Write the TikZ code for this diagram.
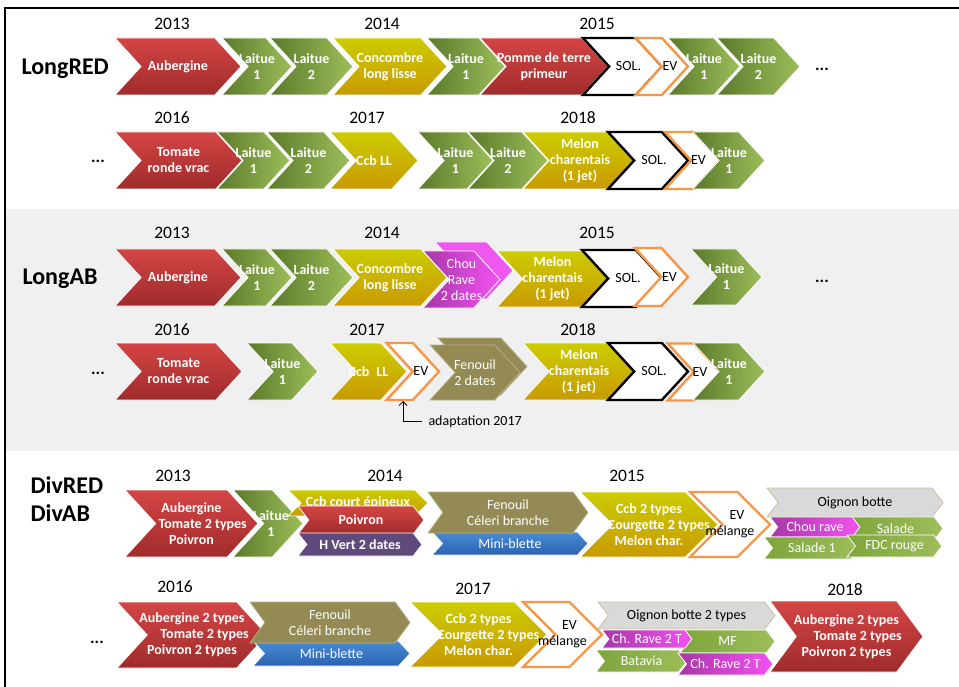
\documentclass[tikz,border=0pt]{standalone}
\usepackage{fontspec}
\setmainfont{Carlito}
\usetikzlibrary{shapes.symbols,arrows.meta}
\definecolor{redT}{HTML}{D44545}
\definecolor{redB}{HTML}{A02B2B}
\definecolor{grnL}{HTML}{5B7A2B}
\definecolor{grnR}{HTML}{9DBE5A}
\definecolor{lgrL}{HTML}{7FA53C}
\definecolor{lgrR}{HTML}{9DBE5A}
\definecolor{yelT}{HTML}{CCCC00}
\definecolor{yelB}{HTML}{C99A00}
\definecolor{khaki}{HTML}{948A54}
\definecolor{khakiEdge}{HTML}{B8B088}
\definecolor{bluT}{HTML}{4A8CD6}
\definecolor{bluB}{HTML}{2A62AE}
\definecolor{purp}{HTML}{604A7B}
\definecolor{magL}{HTML}{A837A8}
\definecolor{magR}{HTML}{F252F2}
\definecolor{magBack}{HTML}{EE58EE}
\definecolor{oig}{HTML}{D9D9D9}
\definecolor{oigEdge}{HTML}{C9C0A0}
\definecolor{evOr}{HTML}{F79646}
\definecolor{band}{HTML}{F0F0F0}

\begin{document}
\begin{tikzpicture}[x=1pt, y=-1pt,
  chev/.style={signal, signal from=west, signal to=east, signal pointer angle=95,
    inner sep=0pt, outer sep=0pt, draw=white, line width=0.8pt, anchor=east},
  slim/.style={signal pointer angle=105},
  redc/.style={chev, top color=redT, bottom color=redB},
  grnc/.style={chev, left color=grnL, right color=grnR},
  lgrc/.style={chev, slim, left color=lgrL, right color=lgrR},
  yelc/.style={chev, top color=yelT, bottom color=yelB},
  khkc/.style={chev, fill=khaki, draw=khakiEdge},
  bluc/.style={chev, slim, top color=bluT, bottom color=bluB},
  purc/.style={chev, slim, fill=purp},
  magc/.style={chev, left color=magL, right color=magR},
  grayc/.style={chev, slim, fill=oig, draw=oigEdge},
  solc/.style={chev, fill=white, draw=black, line width=2.4pt},
  evc/.style={chev, fill=white, draw=evOr, line width=2.4pt},
  lbl/.style={text=white, align=center, font=\bfseries\fontsize{14}{16}\selectfont},
  lbln/.style={text=white, align=center, font=\fontsize{14}{16}\selectfont},
  lblk/.style={text=black, align=center, font=\fontsize{14}{16}\selectfont},
  year/.style={font=\fontsize{17.5}{20}\selectfont, anchor=base},
  rotname/.style={font=\bfseries\fontsize{24}{26}\selectfont, anchor=base west},
  dots/.style={font=\bfseries\fontsize{17}{20}\selectfont, anchor=base}]
  \useasboundingbox (0,0) rectangle (959,687);
  % background band and frame
  \fill[band] (5,209) rectangle (959,451);
  \draw[black, line width=2pt] (4.5,687) -- (4.5,8) -- (959,8);

  % LongRED
  \node[rotname] (longred) at (18,75) {LongRED};
  \node[year] (yA1) at (172,30) {2013};
  \node[year] (yA2) at (382,30) {2014};
  \node[year] (yA3) at (597,30) {2015};
  \node[redc, minimum width=126, minimum height=57, label={[lbl]center:Aubergine}] (aubA) at (241,66.5) {};
  \node[grnc, minimum width=70, minimum height=57, label={[lbl]center:{Laitue\\1}}] (laitA1) at (292,66.5) {};
  \node[grnc, minimum width=83, minimum height=57, label={[lbl]center:{Laitue\\2}}] (laitA2) at (353,66.5) {};
  \node[yelc, minimum width=114, minimum height=57, label={[lbl]center:{Concombre\\long lisse}}] (ccbA) at (447,66.5) {};
  \node[grnc, minimum width=78, minimum height=57, label={[lbl]center:{Laitue\\1}}] (laitA3) at (505,66.5) {};
  \node[redc, minimum width=128, minimum height=57, label={[lbl]center:{Pomme de terre\\primeur}}] (pdtA) at (608,66.5) {};
  \node[solc, minimum width=79, minimum height=57, label={[lblk, xshift=6]center:SOL.}] (solA) at (662,66.5) {};
  \node[evc, minimum width=49, minimum height=57, label={[lblk, xshift=8]center:EV}] (evA) at (688,66.5) {};
  \node[grnc, minimum width=72, minimum height=57, label={[lbl]center:{Laitue\\1}}] (laitA4) at (740,66.5) {};
  \node[grnc, minimum width=83, minimum height=57, label={[lbl]center:{Laitue\\2}}] (laitA5) at (800,66.5) {};
  \node[dots] (dotsA) at (822,71) {...};

  \node[dots] (dotsB) at (98,163) {...};
  \node[year] (yB1) at (172,124) {2016};
  \node[year] (yB2) at (367,124) {2017};
  \node[year] (yB3) at (578,124) {2018};
  \node[redc, minimum width=127, minimum height=57, label={[lbl]center:{Tomate\\ronde vrac}}] (tomB) at (242,160.5) {};
  \node[grnc, minimum width=73, minimum height=57, label={[lbl]center:{Laitue\\1}}] (laitB1) at (290,160.5) {};
  \node[grnc, minimum width=83, minimum height=57, label={[lbl]center:{Laitue\\2}}] (laitB2) at (350,160.5) {};
  \node[yelc, minimum width=88, minimum height=57, label={[lbl]center:Ccb LL}] (ccbB) at (418,160.5) {};
  \node[grnc, minimum width=75, minimum height=57, label={[lbl]center:{Laitue\\1}}] (laitB3) at (493,160.5) {};
  \node[grnc, minimum width=80, minimum height=57, label={[lbl]center:{Laitue\\2}}] (laitB4) at (548,160.5) {};
  \node[yelc, minimum width=114, minimum height=57, label={[lbl]center:{Melon\\charentais\\(1 jet)}}] (melB) at (637,160.5) {};
  \node[solc, minimum width=80, minimum height=57, label={[lblk, xshift=6]center:SOL.}] (solB) at (688,160.5) {};
  \node[evc, minimum width=55, minimum height=57, label={[lblk, xshift=6]center:EV}] (evB) at (720,160.5) {};
  \node[grnc, minimum width=72, minimum height=57, label={[lbl]center:{Laitue\\1}}] (laitB5) at (765,160.5) {};

  % LongAB
  \node[rotname] (longab) at (19,285) {LongAB};
  \node[year] (yC1) at (172,239) {2013};
  \node[year] (yC2) at (382,239) {2014};
  \node[year] (yC3) at (597,239) {2015};
  \node[redc, minimum width=126, minimum height=57, label={[lbl]center:Aubergine}] (aubC) at (241,277.5) {};
  \node[grnc, minimum width=70, minimum height=57, label={[lbl]center:{Laitue\\1}}] (laitC1) at (292,277.5) {};
  \node[grnc, minimum width=83, minimum height=57, label={[lbl]center:{Laitue\\2}}] (laitC2) at (353,277.5) {};
  \node[yelc, minimum width=114, minimum height=57, label={[lbl]center:{Concombre\\long lisse}}] (ccbC) at (447,277.5) {};
  \node[chev, fill=magBack, minimum width=78, minimum height=57] (chouCb) at (513,270.5) {};
  \node[magc, minimum width=77, minimum height=57, label={[lbln]center:{Chou\\Rave\\2 dates}}] (chouC) at (500,279.5) {};
  \node[yelc, minimum width=111, minimum height=56, label={[lbl]center:{Melon\\charentais\\(1 jet)}}] (melC) at (608,279) {};
  \node[solc, minimum width=80, minimum height=57, label={[lblk, xshift=6]center:SOL.}] (solC) at (662,278.5) {};
  \node[evc, minimum width=49, minimum height=58, label={[lblk, xshift=8]center:EV}] (evC) at (688,277) {};
  \node[grnc, minimum width=71, minimum height=56, label={[lbl]center:{Laitue\\1}}] (laitC3) at (762,277) {};
  \node[dots] (dotsC) at (822,283) {...};

  \node[dots] (dotsD) at (98,374) {...};
  \node[year] (yD1) at (172,335) {2016};
  \node[year] (yD2) at (367,335) {2017};
  \node[year] (yD3) at (578,335) {2018};
  \node[redc, minimum width=127, minimum height=57, label={[lbl]center:{Tomate\\ronde vrac}}] (tomD) at (242,371.5) {};
  \node[grnc, minimum width=71, minimum height=57, label={[lbl]center:{Laitue\\1}}] (laitD1) at (318,371.5) {};
  \node[yelc, minimum width=77, minimum height=57, label={[lbl]center:{Ccb\hspace{0.5em}LL}}] (ccbD) at (407,371.5) {};
  \node[evc, minimum width=47, minimum height=57, label={[lblk, xshift=8]center:EV}] (evD1) at (439,371.5) {};
  \node[khkc, minimum width=89, minimum height=57] (fenDb) at (527,366.5) {};
  \node[khkc, minimum width=90, minimum height=55, label={[lbln]center:{Fenouil\\2 dates}}] (fenD) at (520,372.5) {};
  \node[yelc, minimum width=112, minimum height=57, label={[lbl]center:{Melon\\charentais\\(1 jet)}}] (melD) at (635,371.5) {};
  \node[solc, minimum width=80, minimum height=57, label={[lblk, xshift=6]center:SOL.}] (solD) at (688,371.5) {};
  \node[evc, minimum width=50, minimum height=57, label={[lblk, xshift=6]center:EV}] (evD2) at (720,372) {};
  \node[grnc, minimum width=72, minimum height=57, label={[lbl]center:{Laitue\\1}}] (laitD2) at (765,371.5) {};
  \node[font=\fontsize{14}{16}\selectfont, anchor=base west] (adapt) at (425,425) {adaptation 2017};
  \coordinate (adpt) at (403,401);
  \draw[-{Straight Barb[length=4pt,width=8pt]}, line width=0.8pt] ([xshift=-3pt]adapt.west) -| (adpt);

  % DivRED / DivAB
  \node[rotname] (divred) at (27,493) {DivRED};
  \node[rotname] (divab) at (27,521) {DivAB};
  \node[year] (yE1) at (173,481) {2013};
  \node[year] (yE2) at (385,481) {2014};
  \node[year] (yE3) at (627,481) {2015};
  \node[redc, minimum width=133, minimum height=67, label={[lbl]center:{Aubergine\\\hspace*{1.6em}Tomate 2 types\\Poivron}}] (mixE) at (258,523.5) {};
  \node[grnc, minimum width=70, minimum height=67, label={[lbl, xshift=3]center:{Laitue\\1}}] (laitE) at (303,523.5) {};
  \node[yelc, signal pointer angle=90, minimum width=140, minimum height=26, label={[lbl]center:Ccb court épineux}] (ccbE) at (428,503) {};
  \node[redc, slim, minimum width=126, minimum height=28, label={[lbl]center:Poivron}] (poivE) at (424,520) {};
  \node[purc, minimum width=124, minimum height=23, label={[lbl]center:H Vert 2 dates}] (hvE) at (422,544.5) {};
  \node[bluc, signal pointer angle=95, minimum width=156, minimum height=23, label={[lbln]center:Mini-blette}] (mbE) at (588,543.5) {};
  \node[khkc, signal pointer angle=108, minimum width=160, minimum height=41, label={[lbln]center:{Fenouil\\Céleri branche}}] (fenE) at (588,512.5) {};
  \node[yelc, signal pointer angle=90, minimum width=138, minimum height=65, label={[lbl]center:{Ccb 2 types\\\hspace*{1.4em}Courgette 2 types\\Melon char.}}] (yelE) at (718,524.5) {};
  \node[evc, signal pointer angle=90, minimum width=80, minimum height=65, label={[lblk]center:{\hspace*{14pt}EV\\mélange}}] (evE) at (770,524.5) {};
  \node[grayc, minimum width=176, minimum height=29, label={[lblk]center:Oignon botte}] (oigE) at (943,502.5) {};
  \node[lgrc, minimum width=95, minimum height=23, label={[lbln]center:Salade}] (salE) at (943,528.5) {};
  \node[magc, slim, minimum width=90, minimum height=20, label={[lbln]center:Chou rave}] (chouE) at (860,527) {};
  \node[lgrc, minimum width=96, minimum height=22, label={[lbln]center:Salade 1}] (sal1E) at (860,548) {};
  \node[lgrc, minimum width=95, minimum height=22, label={[lbln]center:FDC rouge}] (fdcE) at (942,546) {};

  \node[dots] (dotsF) at (97,643) {...};
  \node[year] (yF1) at (175,592) {2016};
  \node[year] (yF2) at (473,594) {2017};
  \node[year] (yF3) at (845,595) {2018};
  \node[redc, minimum width=150, minimum height=66, label={[lbl]center:{Aubergine 2 types\\\hspace*{1.8em}Tomate 2 types\\Poivron 2 types}}] (mixF) at (267,635) {};
  \node[bluc, signal pointer angle=95, minimum width=157, minimum height=25, label={[lbln]center:Mini-blette}] (mbF) at (410,653.5) {};
  \node[khkc, signal pointer angle=108, minimum width=160, minimum height=41, label={[lbln]center:{Fenouil\\Céleri branche}}] (fenF) at (410,622.5) {};
  \node[yelc, signal pointer angle=90, minimum width=137, minimum height=65, label={[lbl]center:{Ccb 2 types\\\hspace*{1.4em}Courgette 2 types\\Melon char.}}] (yelF) at (547,634.5) {};
  \node[evc, signal pointer angle=90, minimum width=79, minimum height=65, label={[lblk]center:{\hspace*{14pt}EV\\mélange}}] (evF) at (602,634.5) {};
  \node[grayc, minimum width=177, minimum height=27, label={[lblk]center:Oignon botte 2 types}] (oigF) at (775,615.5) {};
  \node[lgrc, minimum width=95, minimum height=23, label={[lbln]center:MF}] (mfF) at (775,641.5) {};
  \node[magc, slim, minimum width=90, minimum height=18, label={[lbln]center:Ch. Rave 2 T}] (chouF1) at (692,639) {};
  \node[lgrc, minimum width=91, minimum height=22, label={[lbln]center:Batavia}] (batF) at (687,661) {};
  \node[magc, slim, minimum width=95, minimum height=22, label={[lbln]center:Ch. Rave 2 T}] (chouF2) at (773,664) {};
  \node[redc, signal pointer angle=107, minimum width=153, minimum height=71, label={[lbl]center:{Aubergine 2 types\\\hspace*{1.6em}Tomate 2 types\\Poivron 2 types}}] (mixF2) at (923,636.5) {};
\end{tikzpicture}
\end{document}
